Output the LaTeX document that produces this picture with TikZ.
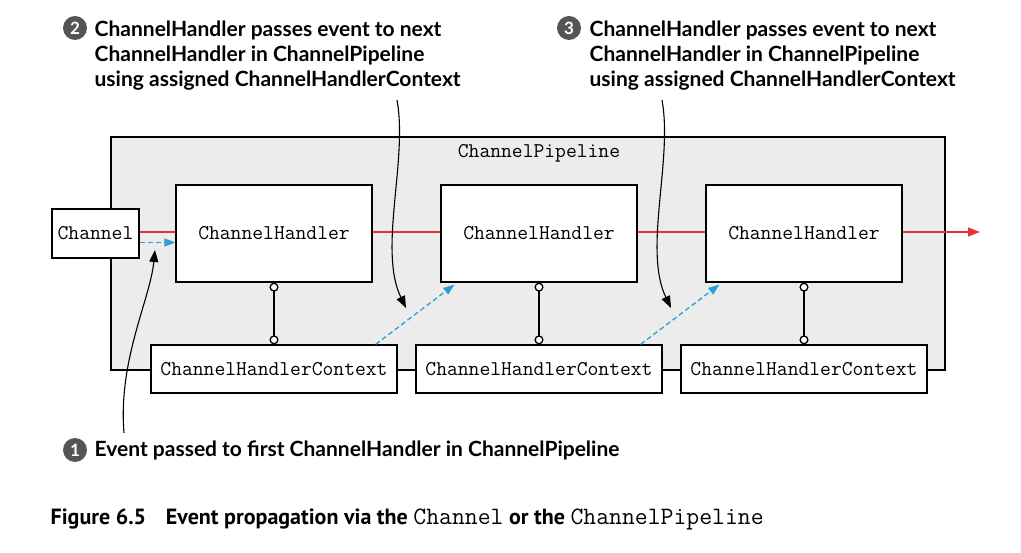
\documentclass[tikz,border=0pt]{standalone}
\usepackage{fontspec}
\setmainfont{Lato}
\newfontfamily\capfont{PT Sans}
\usetikzlibrary{arrows.meta, positioning}
\definecolor{evred}{HTML}{E8303A}
\definecolor{evblue}{HTML}{2A9FD6}
\definecolor{pipegray}{HTML}{ECECEC}
\definecolor{numgray}{HTML}{555555}

\begin{document}
\begin{tikzpicture}[x=1pt, y=-1pt, line width=1.3pt,
  box/.style={draw, fill=white, inner sep=0pt, font=\fontsize{21}{22}\ttfamily},
  handler/.style={box, minimum width=196, minimum height=97},
  context/.style={box, minimum width=246, minimum height=48},
  callout/.style={inner sep=0pt, align=left, font=\fontsize{21}{25}\selectfont\bfseries},
  num/.style={circle, fill=numgray, text=white, inner sep=0pt, minimum size=24,
    font=\fontsize{17}{17}\selectfont\bfseries},
  flow/.style={draw=evred, line width=1.4pt},
  event/.style={flow, -{Triangle[length=12, width=9]}},
  pass/.style={evblue, dash pattern=on 5pt off 3pt, -{Triangle[length=11, width=8]}},
  hook/.style={{Circle[open, fill=white, length=9]}-{Circle[open, fill=white, length=9]}},
  pointer/.style={line width=1.1pt, -{Triangle[length=12, width=9]}}]
  \useasboundingbox (0,0) rectangle (1021,553);

  % pipeline frame
  \node[draw, fill=pipegray, minimum width=834, minimum height=233, inner sep=0pt] (pipe) at (528,253.5) {};
  \node[font=\fontsize{21}{22}\ttfamily] (pipetitle) at (539,153) {ChannelPipeline};

  % channel, handlers and contexts
  \node[box, minimum width=87, minimum height=49] (ch) at (95.5,233.5) {Channel};
  \node[handler] (h1) at (274,233.5) {ChannelHandler};
  \node[handler] (h2) at (539,233.5) {ChannelHandler};
  \node[handler] (h3) at (804,233.5) {ChannelHandler};
  \node[context] (c1) at (274,369) {ChannelHandlerContext};
  \node[context] (c2) at (539,369) {ChannelHandlerContext};
  \node[context] (c3) at (804,369) {ChannelHandlerContext};
  \coordinate (out) at (980,232);

  \draw[flow] ([yshift=1.5pt]ch.east) -- ([yshift=1.5pt]h1.west);
  \draw[flow] ([yshift=1.5pt]h1.east) -- ([yshift=1.5pt]h2.west);
  \draw[flow] ([yshift=1.5pt]h2.east) -- ([yshift=1.5pt]h3.west);
  \draw[event] ([yshift=1.5pt]h3.east) -- (out);

  \foreach \i in {1,2,3}
    \draw[hook] (h\i.south) -- (c\i.north);

  \draw[pass] ([yshift=-9pt]ch.east) -- ([yshift=-9pt]h1.west);
  \draw[pass] ([xshift=-22pt]c1.north east) -- ([xshift=14pt, yshift=-2pt]h2.south west);
  \draw[pass] ([xshift=-22pt]c2.north east) -- ([xshift=14pt, yshift=-2pt]h3.south west);

  % callouts
  \node[num] (n2) at (75,28) {2};
  \node[callout, anchor=north west] (lbl2) at (94,20) {ChannelHandler passes event to next\\ChannelHandler in ChannelPipeline\\using assigned ChannelHandlerContext};
  \node[num] (n3) at (569,28) {3};
  \node[callout, anchor=north west] (lbl3) at (589,20) {ChannelHandler passes event to next\\ChannelHandler in ChannelPipeline\\using assigned ChannelHandlerContext};
  \node[num] (n1) at (75,450) {1};
  \node[callout, anchor=west] (lbl1) at (94,450) {Event passed to first ChannelHandler in ChannelPipeline};

  \coordinate (s1) at (124,433);
  \coordinate (t1) at (155,250);
  \coordinate (s2) at (397,100);
  \coordinate (t2) at (406,308);
  \coordinate (s3) at (662,100);
  \coordinate (t3) at (671,308);
  \draw[pointer] (s1) .. controls (118,360) and (150,300) .. (t1);
  \draw[pointer] (s2) .. controls (408,160) and (378,250) .. (t2);
  \draw[pointer] (s3) .. controls (673,160) and (643,250) .. (t3);

  % caption
  \node[anchor=base west, inner sep=0pt, font=\capfont\fontsize{22}{24}\bfseries] (cap) at (50,524)
    {Figure 6.5\hspace{0.9em}Event propagation via the {\fontsize{25}{24}\mdseries\ttfamily Channel} or the {\fontsize{25}{24}\mdseries\ttfamily ChannelPipeline}};
\end{tikzpicture}
\end{document}
